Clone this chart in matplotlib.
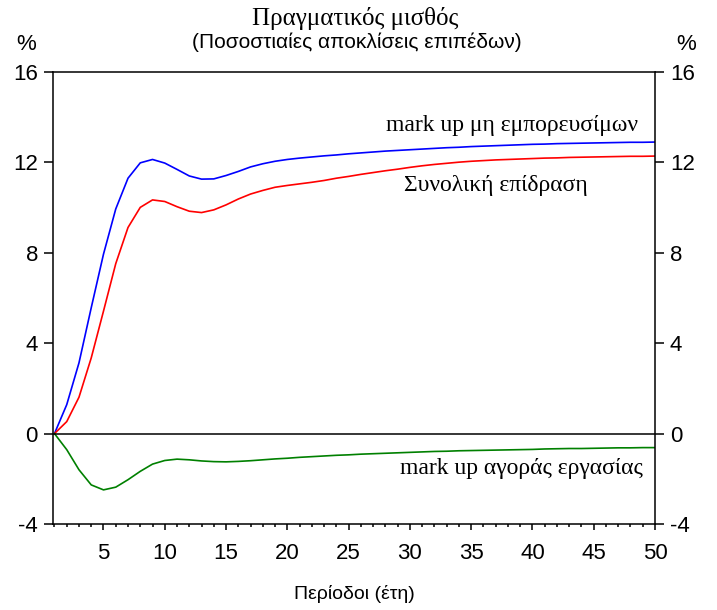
import numpy as np
import matplotlib
matplotlib.use("Agg")
from matplotlib import pyplot as plt
from matplotlib.ticker import MultipleLocator

# περίοδοι (έτη)
periods = np.arange(1, 51)

# mark up μη εμπορευσίμων (μπλε)
blue = [0.00, 1.28, 3.13, 5.57, 7.94, 9.94, 11.30, 11.98, 12.13, 11.97,
        11.69, 11.40, 11.26, 11.27, 11.42, 11.60, 11.80, 11.94, 12.05, 12.13,
        12.19, 12.24, 12.29, 12.33, 12.38, 12.42, 12.46, 12.50, 12.53, 12.56,
        12.59, 12.62, 12.65, 12.67, 12.70, 12.72, 12.74, 12.76, 12.78, 12.80,
        12.81, 12.83, 12.84, 12.85, 12.86, 12.87, 12.88, 12.89, 12.89, 12.90]

# Συνολική επίδραση (κόκκινο)
red = [0.00, 0.53, 1.61, 3.35, 5.42, 7.52, 9.12, 10.01, 10.34, 10.27,
       10.04, 9.84, 9.78, 9.90, 10.12, 10.38, 10.60, 10.76, 10.90, 10.98,
       11.05, 11.12, 11.20, 11.30, 11.38, 11.47, 11.55, 11.63, 11.70, 11.78,
       11.85, 11.91, 11.96, 12.01, 12.05, 12.08, 12.11, 12.13, 12.15, 12.17,
       12.19, 12.20, 12.22, 12.23, 12.24, 12.25, 12.26, 12.27, 12.27, 12.28]

# mark up αγοράς εργασίας (πράσινο)
green = [0.00, -0.71, -1.60, -2.27, -2.49, -2.37, -2.04, -1.67, -1.35, -1.19,
         -1.13, -1.16, -1.21, -1.24, -1.25, -1.23, -1.20, -1.16, -1.12, -1.09,
         -1.05, -1.02, -0.99, -0.96, -0.94, -0.91, -0.89, -0.87, -0.85, -0.83,
         -0.81, -0.79, -0.78, -0.76, -0.75, -0.74, -0.73, -0.72, -0.71, -0.70,
         -0.68, -0.67, -0.66, -0.66, -0.65, -0.64, -0.63, -0.63, -0.62, -0.62]

serif = ['Liberation Serif', 'DejaVu Serif']
plt.rcParams['font.family'] = ['Liberation Sans', 'DejaVu Sans']
plt.rcParams['axes.unicode_minus'] = False

W, H = 717, 610
fig = plt.figure(figsize=(W / 100, H / 100), dpi=100)
ax = fig.add_axes([53 / W, 1 - 524 / H, (655 - 53) / W, (524 - 72) / H])

ax.plot(periods, blue, color='#0000ff', linewidth=1.2)
ax.plot(periods, red, color='#ff0000', linewidth=1.2)
ax.plot(periods, green, color='#008000', linewidth=1.2)
ax.axhline(0, color='black', linewidth=1.1)

ax.set_xlim(0.88, 50)
ax.set_ylim(-4, 16)
ax.yaxis.set_major_locator(MultipleLocator(4))
ax.xaxis.set_major_locator(MultipleLocator(5))
ax.xaxis.set_minor_locator(MultipleLocator(1))
ax.tick_params(axis='y', which='both', direction='out', length=6.8, width=1.1,
               labelsize=16, left=True, right=True, labelleft=True, labelright=True, pad=4)
ax.tick_params(axis='x', which='major', direction='out', length=4, width=1.1,
               labelsize=16, top=False, pad=10)
ax.tick_params(axis='x', which='minor', direction='out', length=2.4, width=1.1, top=False)
for s in ax.spines.values():
    s.set_linewidth(1.1)

# ετικέτες καμπυλών
ax.text(48.6, 13.62, 'mark up μη εμπορευσίμων', family=serif, fontsize=17,
        ha='right', va='center')
ax.text(37.0, 10.96, 'Συνολική επίδραση', family=serif, fontsize=17,
        ha='center', va='center')
ax.text(49.0, -1.53, 'mark up αγοράς εργασίας', family=serif, fontsize=17,
        ha='right', va='center')

# τίτλοι
fig.text(355 / W, 1 - 18 / H, 'Πραγματικός μισθός', family=serif, fontsize=18,
         ha='center', va='center')
fig.text(357 / W, 1 - 42 / H, '(Ποσοστιαίες αποκλίσεις επιπέδων)',
         fontsize=15, ha='center', va='center')
fig.text(26 / W, 1 - 45 / H, '%', fontsize=16, ha='center', va='center')
fig.text(686 / W, 1 - 45 / H, '%', fontsize=16, ha='center', va='center')
fig.text(354 / W, 1 - 594 / H, 'Περίοδοι (έτη)', fontsize=14,
         ha='center', va='center')

fig.savefig('out.png', dpi=100)
